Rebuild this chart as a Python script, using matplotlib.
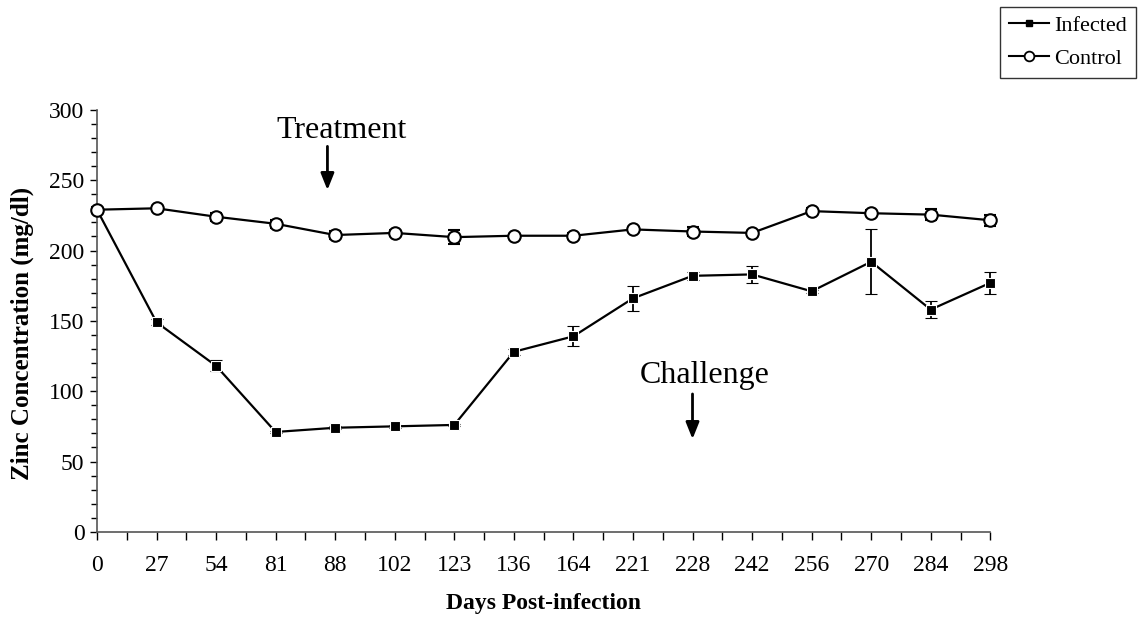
import matplotlib
matplotlib.use("Agg")
import matplotlib.pyplot as plt
import numpy as np
from matplotlib.ticker import MultipleLocator
from matplotlib.lines import Line2D

plt.rcParams['font.family'] = ['Liberation Serif', 'DejaVu Serif']

days = ["0", "27", "54", "81", "88", "102", "123", "136", "164", "221",
        "228", "242", "256", "270", "284", "298"]
infected = [229, 149, 118, 71, 74, 75, 76, 128, 139, 166, 182, 183, 171, 192, 158, 177]
infected_err = [2, 2, 4, 1, 1, 1, 1, 2, 7, 9, 3, 6, 1, 23, 6, 8]
control = [229, 230, 224, 219, 211, 212.5, 209.5, 210.5, 210.5, 215, 213.5, 212.5, 228, 226.5, 225.5, 221.5]
control_err = [2, 1.5, 3, 3, 3, 2, 5, 1.5, 2, 2, 3, 1.5, 2, 2, 4, 4]

fig = plt.figure(figsize=(11.38, 6.17), dpi=100)
ax = fig.add_axes([0.0852, 0.138, 0.785, 0.684])
x = np.arange(len(days))

for y, e, style in [
    (infected, infected_err, dict(marker='s', ms=7, mfc='black', mec='white', mew=0.8)),
    (control, control_err, dict(marker='o', ms=9, mfc='white', mec='black', mew=1.5)),
]:
    cont = ax.errorbar(x, y, yerr=e, color='black', lw=1.6,
                       capsize=4, elinewidth=1.3, capthick=1.3, zorder=3, **style)
    cont.lines[0].set_clip_on(False)
    for group in cont.lines[1:]:
        for art in group:
            art.set_clip_on(False)

ax.set_xlim(0, len(days) - 1)
ax.set_ylim(0, 300)
ax.set_xticks(x)
ax.set_xticklabels(days, fontsize=17)
ax.xaxis.set_minor_locator(MultipleLocator(0.5))
ax.yaxis.set_major_locator(MultipleLocator(50))
ax.yaxis.set_minor_locator(MultipleLocator(10))
ax.tick_params(axis='y', labelsize=17, length=5, width=1, direction='out', pad=4)
ax.tick_params(axis='y', which='minor', length=4, width=1)
ax.tick_params(axis='x', which='major', length=6, width=1, pad=11)
ax.tick_params(axis='x', which='minor', length=6, width=1)
for s in ['top', 'right']:
    ax.spines[s].set_visible(False)
for s in ['left', 'bottom']:
    ax.spines[s].set_color('#555555')
    ax.spines[s].set_linewidth(1.2)

ax.set_xlabel('Days Post-infection', fontsize=17, fontweight='bold', labelpad=12)
ax.set_ylabel('Zinc Concentration (mg/dl)', fontsize=18, fontweight='bold')
ax.yaxis.set_label_coords(-0.071, 0.469)

ax.text(4.1, 285, 'Treatment', fontsize=23, ha='center', va='center')
ax.annotate('', xy=(3.87, 241), xytext=(3.87, 276),
            arrowprops=dict(arrowstyle='-|>,head_width=0.4,head_length=1.0', color='black', lw=2))
ax.text(10.2, 111, 'Challenge', fontsize=23, ha='center', va='center')
ax.annotate('', xy=(10.0, 64), xytext=(10.0, 100),
            arrowprops=dict(arrowstyle='-|>,head_width=0.4,head_length=1.0', color='black', lw=2))

handles = [
    Line2D([], [], color='black', lw=1.5, marker='s', ms=5, mfc='black', mec='black'),
    Line2D([], [], color='black', lw=1.5, marker='o', ms=7, mfc='white', mec='black', mew=1.3),
]
leg = fig.legend(handles, ['Infected', 'Control'], loc='upper right',
                 bbox_to_anchor=(0.998, 0.989), fontsize=16,
                 frameon=True, fancybox=False, edgecolor='black',
                 handlelength=1.8, handletextpad=0.25, borderpad=0.4,
                 labelspacing=0.55, borderaxespad=0)
leg.get_frame().set_linewidth(1.0)

fig.savefig('out.png', dpi=100)
